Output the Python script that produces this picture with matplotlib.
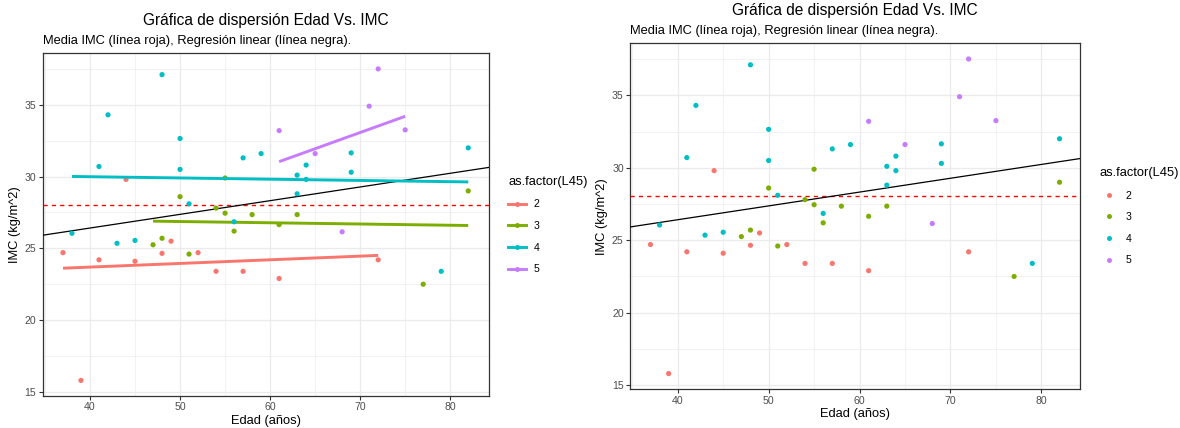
import numpy as np
import matplotlib
matplotlib.use("Agg")
import matplotlib.pyplot as plt
from matplotlib.lines import Line2D

plt.rcParams['font.family'] = ['Liberation Sans', 'DejaVu Sans']

# Edad / IMC por grupo L45
edad_2 = [37, 39, 41, 44, 45, 48, 49, 52, 54, 57, 61, 72]
imc_2 = [24.7, 15.8, 24.2, 29.8, 24.1, 24.65, 25.5, 24.7, 23.4, 23.4, 22.9, 24.2]
edad_3 = [47, 48, 50, 51, 54, 55, 55, 56, 58, 61, 63, 77, 82]
imc_3 = [25.25, 25.7, 28.6, 24.6, 27.8, 29.9, 27.45, 26.2, 27.35, 26.65, 27.35, 22.5, 29.0]
edad_4 = [38, 41, 42, 43, 45, 48, 50, 50, 51, 56, 57, 59, 63, 63, 64, 64, 69, 69, 79, 82]
imc_4 = [26.05, 30.7, 34.3, 25.35, 25.55, 37.1, 32.65, 30.5, 28.1, 26.85, 31.3, 31.6,
         30.1, 28.8, 30.8, 29.8, 31.65, 30.3, 23.4, 32.0]
edad_5 = [61, 65, 68, 71, 72, 75]
imc_5 = [33.2, 31.6, 26.15, 34.9, 37.5, 33.25]

niveles = ['2', '3', '4', '5']
colores = ['#F8766D', '#7CAE00', '#00BFC4', '#C77CFF']
grupos = [(edad_2, imc_2), (edad_3, imc_3), (edad_4, imc_4), (edad_5, imc_5)]

edad = np.concatenate([g[0] for g in grupos])
imc = np.concatenate([g[1] for g in grupos])
media = imc.mean()
pend, inter = np.polyfit(edad, imc, 1)

W, H = 1180, 428
fig = plt.figure(figsize=(W / 100, H / 100), dpi=100)

FS_TIT = 11.2
FS_TXT = 9.3
FS_TICK = 7.6


def px_axes(l, r, t, b):
    return fig.add_axes([l / W, 1 - b / H, (r - l) / W, (b - t) / H])


def estilo(ax):
    xr = edad.max() - edad.min()
    yr = imc.max() - imc.min()
    ax.set_xlim(edad.min() - 0.05 * xr, edad.max() + 0.05 * xr)
    ax.set_ylim(imc.min() - 0.05 * yr, imc.max() + 0.05 * yr)
    ax.set_xticks([40, 50, 60, 70, 80])
    ax.set_yticks([15, 20, 25, 30, 35])
    ax.set_xticks([35, 45, 55, 65, 75], minor=True)
    ax.set_yticks([17.5, 22.5, 27.5, 32.5, 37.5], minor=True)
    ax.grid(True, which='major', color='#EBEBEB', lw=0.9, zorder=0)
    ax.grid(True, which='minor', color='#EBEBEB', lw=0.45, zorder=0)
    ax.set_axisbelow(True)
    ax.tick_params(which='major', length=3, width=0.8, color='#333333',
                   labelsize=FS_TICK, labelcolor='#4D4D4D', pad=1.5)
    ax.tick_params(which='minor', length=0)
    for s in ax.spines.values():
        s.set_color('#333333')
        s.set_linewidth(0.9)
    ax.set_xlabel('Edad (años)', fontsize=FS_TXT, labelpad=2)
    ax.set_ylabel('IMC (kg/m^2)', fontsize=FS_TXT, labelpad=3)


def lineas_comunes(ax):
    x0, x1 = ax.get_xlim()
    xs = np.array([x0, x1])
    ax.axhline(media, color='#FF0000', ls=(0, (3, 3)), lw=1.0, zorder=3)
    ax.plot(xs, inter + pend * xs, color='black', lw=0.9, zorder=3)
    ax.set_xlim(x0, x1)


# Panel izquierdo: puntos + regresión por grupo
ax1 = px_axes(42.7, 488.5, 53.3, 396)
estilo(ax1)
for (x, y), c in zip(grupos, colores):
    ax1.scatter(x, y, s=14, color=c, edgecolors='none', zorder=4)
    b, a = np.polyfit(x, y, 1)
    xs = np.array([min(x), max(x)])
    ax1.plot(xs, a + b * xs, color=c, lw=2.1, zorder=4, solid_capstyle='butt')
lineas_comunes(ax1)

# Panel derecho: solo puntos
ax2 = px_axes(630, 1080, 43.3, 389.3)
estilo(ax2)
for (x, y), c in zip(grupos, colores):
    ax2.scatter(x, y, s=14, color=c, edgecolors='none', zorder=4)
lineas_comunes(ax2)

titulo = 'Gráfica de dispersión Edad Vs. IMC'
subtitulo = 'Media IMC (línea roja), Regresión linear (línea negra).'
for ax, yt, ys in [(ax1, 20, 41), (ax2, 10, 31)]:
    pos = ax.get_position()
    fig.text((pos.x0 + pos.x1) / 2, 1 - yt / H, titulo, ha='center', va='center', fontsize=FS_TIT)
    fig.text(pos.x0, 1 - ys / H, subtitulo, ha='left', va='center', fontsize=FS_TXT)

# Leyendas
h1 = [Line2D([0], [0], color=c, lw=2.1, marker='o', markersize=3.6, markeredgewidth=0)
      for c in colores]
leg1 = ax1.legend(h1, niveles, title='as.factor(L45)', loc='upper left',
                  bbox_to_anchor=(1.035, 0.655), frameon=False, fontsize=FS_TICK,
                  title_fontsize=FS_TXT, handlelength=1.7, handletextpad=0.7,
                  labelspacing=1.1, borderaxespad=0)
leg1._legend_box.align = 'left'

h2 = [Line2D([0], [0], color=c, lw=0, marker='o', markersize=3.6, markeredgewidth=0)
      for c in colores]
leg2 = ax2.legend(h2, niveles, title='as.factor(L45)', loc='upper left',
                  bbox_to_anchor=(1.035, 0.655), frameon=False, fontsize=FS_TICK,
                  title_fontsize=FS_TXT, handlelength=1.7, handletextpad=0.7,
                  labelspacing=1.1, borderaxespad=0)
leg2._legend_box.align = 'left'

fig.savefig('out.png', dpi=100)
